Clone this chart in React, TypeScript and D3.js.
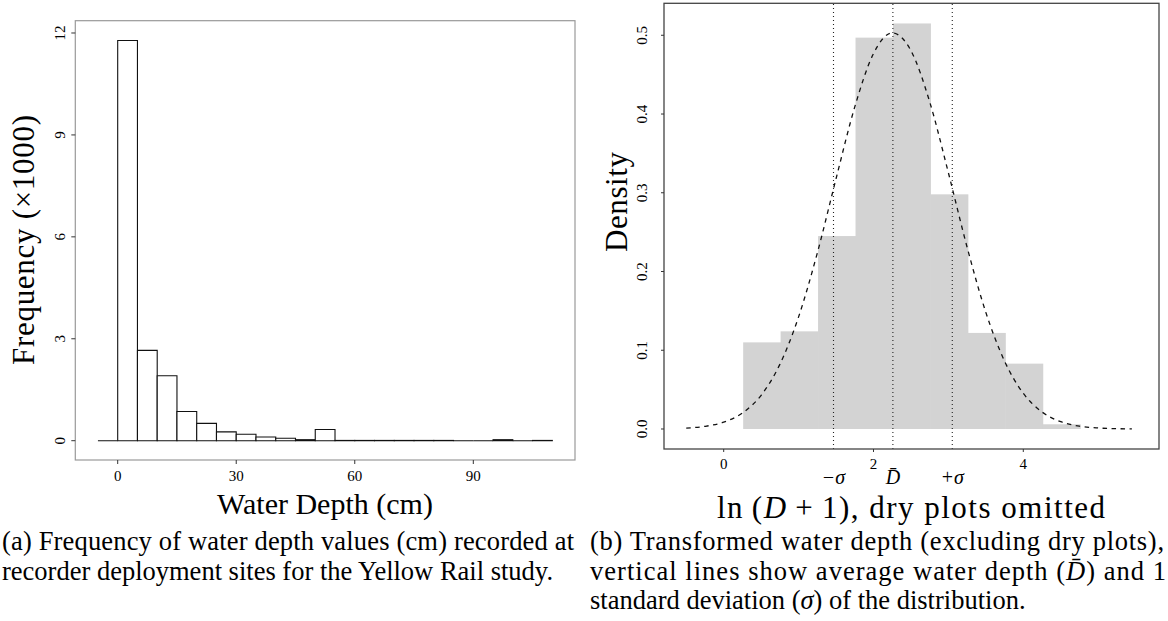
import React, { useEffect, useRef } from 'react';
import * as d3 from 'd3';

// (a) water depth counts (x1000), 5 cm bins starting at -5
const depthBinStart = -5;
const depthBinWidth = 5;
const depthCounts = [0, 11.78, 2.66, 1.91, 0.86, 0.51, 0.26, 0.19, 0.11, 0.07, 0.03, 0.33,
    0.008, 0.008, 0.008, 0.008, 0.008, 0.008, 0, 0, 0.03, 0, 0.008];
const depthXTicks = [0, 30, 60, 90];
const depthYTicks = [0, 3, 6, 9, 12];

// (b) density of ln(D+1), 0.5 wide bins starting at 0.26
const lnBinStart = 0.26;
const lnBinWidth = 0.5;
const lnDensity = [0.110, 0.124, 0.245, 0.497, 0.515, 0.298, 0.122, 0.083, 0.006];
const lnXTicks = [0, 2, 4];
const lnYTicks = [0, 0.1, 0.2, 0.3, 0.4, 0.5];

// dashed normal curve
const curveX = [-0.5, -0.25, 0, 0.25, 0.5, 0.75, 1, 1.25, 1.5, 1.75, 2, 2.25, 2.5, 2.75,
    3, 3.25, 3.5, 3.75, 4, 4.25, 4.5, 4.75, 5, 5.25, 5.45];
const curveY = [0.0012, 0.0034, 0.0087, 0.0203, 0.0428, 0.0821, 0.1424, 0.2235, 0.3178, 0.4090,
    0.4767, 0.5030, 0.4805, 0.4156, 0.3254, 0.2308, 0.1481, 0.0861, 0.0453, 0.0216, 0.0093,
    0.0036, 0.0013, 0.0004, 0.0002];

// mean and +/- 1 sd of ln(D+1)
const meanD = 2.259;
const sdD = 0.793;
const sdLabels = ['−σ', 'D\u0304', '+σ'];

const W = 1168;
const H = 621;
const serif = '"Liberation Serif", "Times New Roman", serif';

const App = () => {
    const svgRef = useRef<SVGSVGElement>(null);

    useEffect(() => {
        const svg = d3.select(svgRef.current)
            .attr('width', W)
            .attr('height', H)
            .style('background', '#fff')
            .style('font-family', serif);

        svg.selectAll('*').remove();

        // ---------- panel (a) ----------
        const ax = d3.scaleLinear().domain([-10.73, 115.74]).range([75.3, 575]);
        const ay = d3.scaleLinear().domain([-0.568, 12.362]).range([460, 20.7]);

        const a = svg.append('g');

        // paths so that empty bins still show as a flat line, like R's hist()
        a.selectAll('path.bar')
            .data(depthCounts)
            .enter()
            .append('path')
            .attr('class', 'bar')
            .attr('d', (d, i) => {
                const x0 = ax(depthBinStart + i * depthBinWidth);
                const x1 = ax(depthBinStart + (i + 1) * depthBinWidth);
                const y0 = ay(0);
                const y1 = ay(d);
                return `M${x0},${y0}V${y1}H${x1}V${y0}Z`;
            })
            .attr('fill', '#fff')
            .attr('stroke', '#111')
            .attr('stroke-width', 1.1);

        a.append('rect')
            .attr('x', ax.range()[0]).attr('y', ay.range()[1])
            .attr('width', ax.range()[1] - ax.range()[0])
            .attr('height', ay.range()[0] - ay.range()[1])
            .attr('fill', 'none').attr('stroke', '#999').attr('stroke-width', 1.2);

        // y ticks
        a.selectAll('line.yt').data(depthYTicks).enter().append('line')
            .attr('x1', ax.range()[0] - 4).attr('x2', ax.range()[0])
            .attr('y1', d => ay(d)).attr('y2', d => ay(d))
            .attr('stroke', '#333');
        a.selectAll('text.yt').data(depthYTicks).enter().append('text')
            .attr('transform', d => `translate(65,${ay(d)}) rotate(-90)`)
            .attr('text-anchor', 'middle')
            .attr('font-size', 15)
            .text(d => d);

        // x ticks
        a.selectAll('line.xt').data(depthXTicks).enter().append('line')
            .attr('x1', d => ax(d)).attr('x2', d => ax(d))
            .attr('y1', ay.range()[0]).attr('y2', ay.range()[0] + 4)
            .attr('stroke', '#333');
        a.selectAll('text.xt').data(depthXTicks).enter().append('text')
            .attr('x', d => ax(d)).attr('y', 481)
            .attr('text-anchor', 'middle')
            .attr('font-size', 15)
            .text(d => d);

        a.append('text')
            .attr('transform', 'translate(34,240) rotate(-90)')
            .attr('text-anchor', 'middle')
            .attr('font-size', 31)
            .attr('textLength', 250)
            .text('Frequency (×1000)');

        a.append('text')
            .attr('x', 325).attr('y', 514)
            .attr('text-anchor', 'middle')
            .attr('font-size', 30)
            .text('Water Depth (cm)');

        // ---------- panel (b) ----------
        const bx = d3.scaleLinear().domain([-0.797, 5.812]).range([664, 1159]);
        const by = d3.scaleLinear().domain([-0.0254, 0.5406]).range([449, 3.3]);

        const b = svg.append('g');

        b.selectAll('rect.bar')
            .data(lnDensity)
            .enter()
            .append('rect')
            .attr('class', 'bar')
            .attr('x', (d, i) => bx(lnBinStart + i * lnBinWidth))
            .attr('width', bx(lnBinWidth) - bx(0) + 0.5)
            .attr('y', d => by(d))
            .attr('height', d => by(0) - by(d))
            .attr('fill', '#d3d3d3');

        const sdLines = [meanD - sdD, meanD, meanD + sdD];
        b.selectAll('line.vl').data(sdLines).enter().append('line')
            .attr('x1', d => bx(d)).attr('x2', d => bx(d))
            .attr('y1', by.range()[0]).attr('y2', by.range()[1])
            .attr('stroke', '#222')
            .attr('stroke-width', 1.1)
            .attr('stroke-dasharray', '1,3');

        const line = d3.line<number>()
            .x((d, i) => bx(curveX[i]))
            .y(d => by(d))
            .curve(d3.curveMonotoneX);

        b.append('path')
            .datum(curveY)
            .attr('d', line)
            .attr('fill', 'none')
            .attr('stroke', '#111')
            .attr('stroke-width', 1.3)
            .attr('stroke-dasharray', '4.5,4.5');

        b.append('rect')
            .attr('x', bx.range()[0]).attr('y', by.range()[1])
            .attr('width', bx.range()[1] - bx.range()[0])
            .attr('height', by.range()[0] - by.range()[1])
            .attr('fill', 'none').attr('stroke', '#444').attr('stroke-width', 1.3);

        b.selectAll('line.yt').data(lnYTicks).enter().append('line')
            .attr('x1', bx.range()[0] - 3).attr('x2', bx.range()[0])
            .attr('y1', d => by(d)).attr('y2', d => by(d))
            .attr('stroke', '#333');
        b.selectAll('text.yt').data(lnYTicks).enter().append('text')
            .attr('transform', d => `translate(647,${by(d)}) rotate(-90)`)
            .attr('text-anchor', 'middle')
            .attr('font-size', 15)
            .text(d => d3.format('.1f')(d));

        b.selectAll('line.xt').data(lnXTicks).enter().append('line')
            .attr('x1', d => bx(d)).attr('x2', d => bx(d))
            .attr('y1', by.range()[0]).attr('y2', by.range()[0] + 3)
            .attr('stroke', '#333');
        b.selectAll('text.xt').data(lnXTicks).enter().append('text')
            .attr('x', d => bx(d)).attr('y', 469)
            .attr('text-anchor', 'middle')
            .attr('font-size', 15)
            .text(d => d);

        // sigma / mean labels under the axis
        b.selectAll('text.sl').data(sdLines).enter().append('text')
            .attr('x', d => bx(d)).attr('y', 484)
            .attr('text-anchor', 'middle')
            .attr('font-size', 20)
            .attr('font-style', 'italic')
            .text((d, i) => sdLabels[i]);

        b.append('text')
            .attr('transform', 'translate(627,202) rotate(-90)')
            .attr('text-anchor', 'middle')
            .attr('font-size', 31)
            .attr('textLength', 100)
            .text('Density');

        const xl = b.append('text')
            .attr('x', 911).attr('y', 518)
            .attr('text-anchor', 'middle')
            .attr('font-size', 31)
            .attr('textLength', 388);
        xl.append('tspan').text('ln\u2009(');
        xl.append('tspan').attr('font-style', 'italic').text('D');
        xl.append('tspan').text('\u2009+\u20091), dry plots omitted');

        // ---------- captions ----------
        const cap = svg.append('g').attr('font-size', 26.5);
        cap.append('text').attr('x', 2).attr('y', 550)
            .attr('textLength', 572).attr('lengthAdjust', 'spacing')
            .text('(a) Frequency of water depth values (cm) recorded at');
        cap.append('text').attr('x', 2).attr('y', 580)
            .text('recorder deployment sites for the Yellow Rail study.');

        cap.append('text').attr('x', 590).attr('y', 550)
            .attr('textLength', 574).attr('lengthAdjust', 'spacing')
            .text('(b) Transformed water depth (excluding dry plots),');
        const c2 = cap.append('text').attr('x', 590).attr('y', 580)
            .attr('textLength', 576).attr('lengthAdjust', 'spacing');
        c2.append('tspan').text('vertical lines show average water depth (');
        c2.append('tspan').attr('font-style', 'italic').text('D\u0304');
        c2.append('tspan').text(') and 1');
        const c3 = cap.append('text').attr('x', 590).attr('y', 609);
        c3.append('tspan').text('standard deviation (');
        c3.append('tspan').attr('font-style', 'italic').text('σ');
        c3.append('tspan').text(') of the distribution.');
    }, []);

    return <svg ref={svgRef} style={{ position: 'absolute', left: 0, top: 0, display: 'block' }}></svg>;
};

export default App;
